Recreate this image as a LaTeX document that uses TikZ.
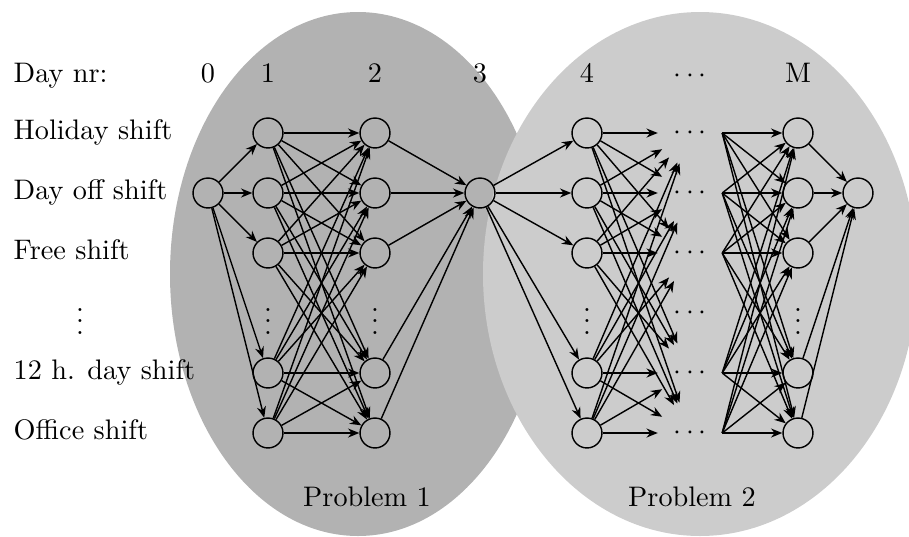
\documentclass[tikz,border=0pt]{standalone}
\usetikzlibrary{arrows.meta}
\definecolor{regA}{gray}{0.7}
\definecolor{regB}{gray}{0.8}
\begin{document}
\begin{tikzpicture}[x=0.354pt,y=-0.354pt, line width=0.5pt,
  st/.style={circle,draw,minimum size=10.6pt,inner sep=0pt},
  dt/.style={circle,inner sep=0pt,minimum size=22.3pt},
  lbl/.style={anchor=base west,inner sep=0pt},
  toplbl/.style={anchor=base,inner sep=0pt},
  arr/.style={-{Stealth[length=4pt,width=3.2pt]}}]
\useasboundingbox (0,0) rectangle (909,536);
\fill[regA] (358,274) ellipse [x radius=188, y radius=262];
\fill[regB] (700,274) ellipse [x radius=217, y radius=262];
% labels
\node[lbl] (lday) at (13,82) {Day nr:};
\node[lbl] (lhol) at (13,139) {Holiday shift};
\node[lbl] (loff) at (13,199) {Day off shift};
\node[lbl] (lfree) at (13,259) {Free shift};
\node (lvd) at (80,313) {$\vdots$};
\node[lbl] (l12) at (13,379) {12 h. day shift};
\node[lbl] (loffice) at (13,439) {Office shift};
\node[toplbl] (t0) at (208,82) {0};
\node[toplbl] (t1) at (268,82) {1};
\node[toplbl] (t2) at (375,82) {2};
\node[toplbl] (t3) at (480,82) {3};
\node[toplbl] (t4) at (587,82) {4};
\node[toplbl] (tdots) at (690,82) {$\cdots$};
\node[toplbl] (tM) at (798,82) {M};
\node (p1) at (367,497) {Problem 1};
\node (p2) at (692,497) {Problem 2};
% nodes
\node[st] (S0) at (208,193) {};
\node[st] (S3) at (480,193) {};
\node[st] (SF) at (858,193) {};
\foreach \r/\yy in {0/133,1/193,2/253,4/373,5/433} {
  \node[st] (A\r) at (268,\yy) {};
  \node[st] (B\r) at (375,\yy) {};
  \node[st] (C\r) at (587,\yy) {};
  \node[dt] (D\r) at (690,\yy) {$\cdots$};
  \node[st] (E\r) at (798,\yy) {};
}
\node (vA) at (268,313) {$\vdots$};
\node (vB) at (375,313) {$\vdots$};
\node (vC) at (587,313) {$\vdots$};
\node[dt] (D3) at (690,313) {$\cdots$};
\node (vE) at (798,313) {$\vdots$};
% edges
\foreach \r in {0,1,2,4,5} {
  \draw[arr] (S0) -- (A\r);
  \draw[arr] (B\r) -- (S3);
  \draw[arr] (S3) -- (C\r);
  \draw[arr] (E\r) -- (SF);
  \foreach \q in {0,1,2,4,5} {
    \draw[arr] (A\r) -- (B\q);
    \draw[arr] (C\r) -- (D\q);
    \draw[arr] (D\r.east) -- (E\q);
  }
}
\end{tikzpicture}
\end{document}
